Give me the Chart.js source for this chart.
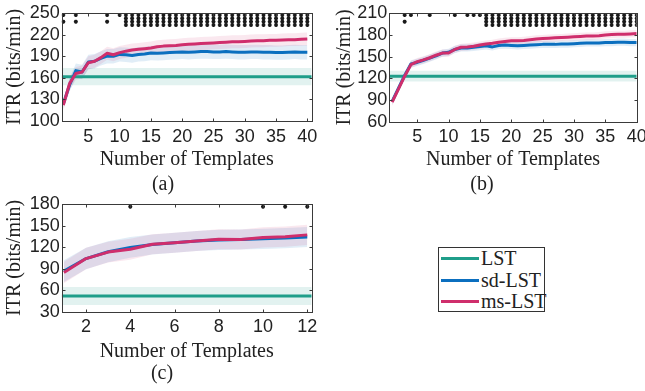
<!DOCTYPE html>
<html><head><meta charset="utf-8">
<script src="https://cdn.jsdelivr.net/npm/chart.js@4.4.1/dist/chart.umd.min.js"></script>
<style>
html,body{margin:0;padding:0;background:#fff;}
body{width:645px;height:391px;overflow:hidden;position:relative;}
canvas{position:absolute;}
.cap{position:absolute;font-family:"Liberation Serif","Times New Roman",Times,"Nimbus Roman","DejaVu Serif",serif;font-size:20px;color:#222;transform:translate(-50%,-50%);white-space:nowrap;line-height:1;}
#legend{position:absolute;left:438px;top:247px;width:107px;height:65px;border:1px solid #333;box-sizing:border-box;background:#fff;}
.row{position:absolute;left:1px;height:20px;}
.row .ln{position:absolute;left:1px;width:38px;height:3px;top:9px;}
.row .tx{position:absolute;left:41px;top:0;font-family:"Liberation Serif","Times New Roman",Times,"Nimbus Roman","DejaVu Serif",serif;font-size:20px;line-height:20px;color:#222;white-space:nowrap;}
</style>
</head><body>
<canvas id="ca" width="322" height="172" style="left:0;top:0"></canvas>
<canvas id="cb" width="315" height="172" style="left:330px;top:0"></canvas>
<canvas id="cc" width="322" height="174" style="left:0;top:190px"></canvas>
<div class="cap" style="left:163px;top:183px">(a)</div>
<div class="cap" style="left:482px;top:183px">(b)</div>
<div class="cap" style="left:162px;top:372px">(c)</div>
<div id="legend">
  <div class="row" style="top:0px"><div class="ln" style="background:#1f9e8a"></div><div class="tx">LST</div></div>
  <div class="row" style="top:21.5px"><div class="ln" style="background:#0b6fbf"></div><div class="tx">sd-LST</div></div>
  <div class="row" style="top:43px"><div class="ln" style="background:#cf2e6c"></div><div class="tx">ms-LST</div></div>
</div>
<script>
// ---------------- DATA ----------------
const templatesAB = [1,2,3,4,5,6,7,8,9,10,11,12,13,14,15,16,17,18,19,20,21,22,23,24,25,26,27,28,29,30,31,32,33,34,35,36,37,38,39,40];
const templatesC = [1,2,3,4,5,6,7,8,9,10,11,12];

const xTicksAB = [5,10,15,20,25,30,35,40];
const xTicksC = [2,4,6,8,10,12];
const yTicksA = [100,130,160,190,220,250];
const yTicksB = [60,90,120,150,180,210];
const yTicksC = [30,60,90,120,150,180];

// Panel (a)
const lstA = 161.5, lstA_sd = 12;
const sdLstA = [124,150,170,168,182,183,187,190,190,192.5,192,191,192.5,193,194.5,194,194.5,195,195.5,196,195.5,196,196.5,196.5,196,196,196.5,196,195.5,195.5,196,196,195.5,195.5,195,195,195.5,196,195.5,195.5];
const sdLstA_sd = [7,9,10,10,10,10,10,10,10,10,10,10,10,10,10,10,10,10,10,10,10,10,10,10,10,10,10,10,10,10,10,10,10,10,10,10,10,10,10,10];
const msLstA = [122,152,166,168,181,183,188,194,192,195,197,198.5,199.5,200.5,201.5,203,204,204.5,205,206,206.5,207,207.5,208,208.5,209,209.5,210,210,210.5,211,211.5,211.5,212,212,212.5,213,213,213.5,214];
const msLstA_sd = [7,9,9,9,9,9,9,9,9,9,9,9,9,9,9,9,9,9,9,9,9,9,9,9,9,9,9,9,9,9,9,9,9,9,9,9,9,9,9,9];
const starsA_x = [1,3,8,10,11,12,13,14,15,16,17,18,19,20,21,22,23,24,25,26,27,28,29,30,31,32,33,34,35,36,37,38,39,40];
const starsA_n = [2,2,2,1,4,4,4,4,4,4,4,4,4,4,4,4,4,4,4,4,4,4,4,4,4,4,4,4,4,4,4,4,4,4];
const starRowsA = [247.2,242.6,237.9,233.3];

// Panel (b)
const lstB = 123, lstB_sd = 7.5;
const sdLstB = [88,106,124,140,142,145,148,151,155,156,160,162,162,163,164,165,163.5,165.5,166,165.5,165,165.5,166,166.5,167,167,167,167.5,167.5,168,168.5,169,169,169,169.5,169.5,170,170,169.5,169.5];
const sdLstB_sd = [5,5,5,5,5,5,5,5,5,5,5,5,5,5,5,5,5,5,5,5,5,5,5,5,5,5,5,5,5,5,5,5,5,5,5,5,5,5,5,5];
const msLstB = [87,105,123,139,143,145.5,148.5,152,155,155,160,163,163.5,164.5,166,167.5,168.5,170,171,172,172,172.5,173.5,174.5,175,175.5,176,176.5,177,177.5,178,178.5,178.5,179,180,180.5,181,181,181.5,182];
const msLstB_sd = [5,5,5,5,5,5,5,5,5,5,5,5,5,5,5,5,5,5,5,5,5,5,5,5,5,5,5,5,5,5,5,5,5,5,5,5,5,5,5,5];
const starsB_x = [3,4,7,11,13,14,15,16,17,18,19,20,21,22,23,24,25,26,27,28,29,30,31,32,33,34,35,36,37,38,39,40];
const starsB_n = [2,1,1,1,1,1,1,4,4,4,4,4,4,4,4,4,4,4,4,4,4,4,4,4,4,4,4,4,4,4,4,4];
const starRowsB = [207.6,203,198.4,193.8];

// Panel (c)
const lstC = 52, lstC_sd = 12.5;
const sdLstC = [86.5,104,113.5,119.5,123.5,126,128.5,130,130.5,131.5,132.5,134];
const sdLstC_sd = [15,15,14.5,14.5,14,14,14,14,14,14,14,14];
const msLstC = [84.5,104,113,117,124,126,128.5,131,130.5,133.5,134.5,137];
const msLstC_sd = [15,15,14.5,14.5,14,14,14,14,14,14,14,14];
const starsC_x = [4,10,11,12];
const starsC_n = [1,1,1,1];
const starRowsC = [176.3];

// ---------------- STYLE ----------------
const SANS = '"Liberation Sans", Arial, Helvetica, sans-serif';
const SERIF = '"Liberation Serif", "Times New Roman", Times, "Nimbus Roman", "DejaVu Serif", serif';
const C_LST = '#1f9e8a', C_SD = '#0b6fbf', C_MS = '#cf2e6c';
const F_LST = 'rgba(31,158,138,0.13)', F_SD = 'rgba(11,111,191,0.12)', F_MS = 'rgba(207,46,108,0.11)';
const ROWSETS = {1:[0], 2:[0,2], 4:[0,1,2,3]};

const framePlugin = {
  id: 'frame',
  afterDraw(chart) {
    const {ctx, chartArea: a, scales: {x, y}} = chart;
    ctx.save();
    ctx.strokeStyle = '#3a3a3a';
    ctx.lineWidth = 1;
    const L = Math.round(a.left) + 0.5, R = Math.round(a.right) + 0.5;
    const T = Math.round(a.top) + 0.5, B = Math.round(a.bottom) + 0.5;
    ctx.strokeRect(L, T, R - L, B - T);
    ctx.beginPath();
    const tl = 3;
    x.ticks.forEach(t => {
      const px = Math.round(x.getPixelForValue(t.value)) + 0.5;
      ctx.moveTo(px, B); ctx.lineTo(px, B - tl);
      ctx.moveTo(px, T); ctx.lineTo(px, T + tl);
    });
    y.ticks.forEach(t => {
      const py = Math.round(y.getPixelForValue(t.value)) + 0.5;
      ctx.moveTo(L, py); ctx.lineTo(L + tl, py);
      ctx.moveTo(R, py); ctx.lineTo(R - tl, py);
    });
    ctx.stroke();
    ctx.restore();
  }
};

function zeroPad(s) { s.paddingLeft = 0; s.paddingRight = 0; s.paddingTop = 0; s.paddingBottom = 0; }

function makeChart(id, o) {
  const pts = vals => o.xs.map((x, i) => ({x, y: vals[i]}));
  const band = (vals, std, k) => o.xs.map((x, i) => ({x, y: vals[i] + k * std[i]}));
  const flat = v => [{x: o.xmin, y: v}, {x: o.xmax, y: v}];
  const stars = [];
  o.starX.forEach((x, i) => ROWSETS[o.starN[i]].forEach(r => stars.push({x, y: o.starRows[r]})));
  const bandDs = (data, color, fill, order) => ({data, fill, backgroundColor: color, borderColor: 'rgba(0,0,0,0)', borderWidth: 0, pointRadius: 0, order});
  const lineDs = (label, data, color, order) => ({label, data, borderColor: color, backgroundColor: color, borderWidth: 3, pointRadius: 0, fill: false, order, borderJoinStyle: 'round', borderCapStyle: 'butt'});
  const datasets = [
    bandDs(flat(o.lst - o.lstSd), F_LST, false, 30),
    bandDs(flat(o.lst + o.lstSd), F_LST, '-1', 30),
    bandDs(band(o.sd, o.sdStd, -1), F_SD, false, 20),
    bandDs(band(o.sd, o.sdStd, 1), F_SD, '-1', 20),
    bandDs(band(o.ms, o.msStd, -1), F_MS, false, 10),
    bandDs(band(o.ms, o.msStd, 1), F_MS, '-1', 10),
    lineDs('LST', flat(o.lst), C_LST, 3),
    lineDs('sd-LST', pts(o.sd), C_SD, 2),
    lineDs('ms-LST', pts(o.ms), C_MS, 1),
    {type: 'scatter', label: 'sig', data: stars, pointStyle: 'star', pointRadius: 2, borderWidth: 1.2, borderColor: '#1a1a1a', backgroundColor: '#1a1a1a', order: 0}
  ];
  return new Chart(document.getElementById(id), {
    type: 'line',
    data: {datasets},
    plugins: [framePlugin],
    options: {
      responsive: false, animation: false, devicePixelRatio: 1,
      layout: {padding: o.pad},
      elements: {line: {tension: 0}},
      plugins: {legend: {display: false}, tooltip: {enabled: false}},
      scales: {
        x: {
          type: 'linear', min: o.xmin, max: o.xmax,
          afterBuildTicks: s => { s.ticks = o.xticks.map(v => ({value: v})); },
          afterFit: s => { s.height = o.xh; zeroPad(s); },
          grid: {display: false, drawTicks: false}, border: {display: false},
          ticks: {font: {family: SANS, size: 18}, color: '#222', padding: 5, maxRotation: 0, autoSkip: false},
          title: {display: true, text: 'Number of Templates', font: {family: SERIF, size: 20}, color: '#222', padding: {top: 0, bottom: 0}}
        },
        y: {
          type: 'linear', min: o.yticks[0], max: o.yticks[o.yticks.length - 1],
          afterBuildTicks: s => { s.ticks = o.yticks.map(v => ({value: v})); },
          afterFit: s => { s.width = o.yw; zeroPad(s); },
          grid: {display: false, drawTicks: false}, border: {display: false},
          ticks: {font: {family: SANS, size: 18}, color: '#222', padding: 2, autoSkip: false},
          title: {display: true, text: 'ITR (bits/min)', font: {family: SERIF, size: 20}, color: '#222', padding: {top: 3, bottom: 0}}
        }
      }
    }
  });
}

makeChart('ca', {
  xs: templatesAB, xmin: 0.74, xmax: 40.7, xticks: xTicksAB, yticks: yTicksA,
  lst: lstA, lstSd: lstA_sd, sd: sdLstA, sdStd: sdLstA_sd, ms: msLstA, msStd: msLstA_sd,
  starX: starsA_x, starN: starsA_n, starRows: starRowsA,
  pad: {left: 0, top: 13, right: 10.3, bottom: 0}, yw: 61.7, xh: 51
});
makeChart('cb', {
  xs: templatesAB, xmin: 0.55, xmax: 40, xticks: xTicksAB, yticks: yTicksB,
  lst: lstB, lstSd: lstB_sd, sd: sdLstB, sdStd: sdLstB_sd, ms: msLstB, msStd: msLstB_sd,
  starX: starsB_x, starN: starsB_n, starRows: starRowsB,
  pad: {left: 0, top: 13.3, right: 8.3, bottom: 0}, yw: 59.3, xh: 50.3
});
makeChart('cc', {
  xs: templatesC, xmin: 0.9, xmax: 12.2, xticks: xTicksC, yticks: yTicksC,
  lst: lstC, lstSd: lstC_sd, sd: sdLstC, sdStd: sdLstC_sd, ms: msLstC, msStd: msLstC_sd,
  starX: starsC_x, starN: starsC_n, starRows: starRowsC,
  pad: {left: 0, top: 14, right: 10.3, bottom: 0}, yw: 61.7, xh: 52.3
});
</script>
</body></html>
